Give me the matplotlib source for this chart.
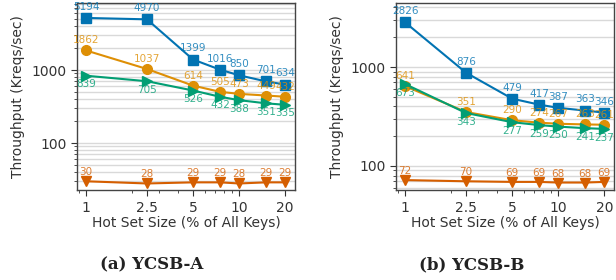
import matplotlib.pyplot as plt
from matplotlib.ticker import FixedLocator, NullFormatter, LogLocator

x = [1, 2.5, 5, 7.5, 10, 15, 20]
xtick_labels = ['1', '2.5', '5', '10', '20']
xtick_vals = [1, 2.5, 5, 10, 20]

# YCSB-A
a_blue = [5194, 4970, 1399, 1016, 850, 701, 634]
a_orange = [1862, 1037, 614, 505, 473, 449, 432]
a_green = [839, 705, 526, 432, 388, 351, 335]
a_red = [30, 28, 29, 29, 28, 29, 29]

# YCSB-B
b_blue = [2826, 876, 479, 417, 387, 363, 346]
b_orange = [641, 351, 290, 274, 267, 263, 261]
b_green = [673, 343, 277, 259, 250, 241, 237]
b_red = [72, 70, 69, 69, 68, 68, 69]

styles = [
    ('#0173b2', 's', 8),
    ('#de8f05', 'o', 7.2),
    ('#029e73', '>', -6.2),
    ('#d55e00', 'v', 6.5),
]

fig = plt.figure(figsize=(6.16, 2.8), dpi=100)
ax1 = fig.add_axes([0.125, 0.321, 0.354, 0.668])
ax2 = fig.add_axes([0.643, 0.321, 0.354, 0.668])


def draw(ax, series, ylim, caption, cx):
    for (col, mk, off), ys in zip(styles, series):
        ax.plot(x, ys, color=col, marker=mk, markersize=7, linewidth=1.5, zorder=3)
        for xi, yi in zip(x, ys):
            ax.annotate(str(yi), (xi, yi), textcoords='offset points',
                        xytext=(0, off), ha='center', va='center',
                        fontsize=7.5, color=col, alpha=0.8, zorder=4)
    ax.set_xscale('log')
    ax.set_yscale('log')
    ax.set_xlim(0.873, 23.2)
    ax.set_ylim(*ylim)
    ax.xaxis.set_major_locator(FixedLocator(xtick_vals))
    ax.set_xticklabels(xtick_labels)
    ax.xaxis.set_minor_formatter(NullFormatter())
    ax.yaxis.set_major_locator(LogLocator(base=10, numticks=10))
    ax.yaxis.set_minor_locator(LogLocator(base=10, subs=range(2, 10), numticks=10))
    ax.yaxis.set_minor_formatter(NullFormatter())
    ax.yaxis.set_major_formatter(plt.FuncFormatter(lambda v, p: '%d' % v))
    ax.grid(True, axis='y', which='both', color='#d9d9d9', linewidth=1.0, zorder=0)
    ax.tick_params(which='both', colors='#333333', labelsize=10, direction='out')
    ax.tick_params(which='major', length=4)
    ax.tick_params(which='minor', length=2.5)
    for s in ax.spines.values():
        s.set_color('#444444')
        s.set_linewidth(1.0)
    ax.set_xlabel('Hot Set Size (% of All Keys)', fontsize=10, color='#333333', labelpad=1)
    ax.set_ylabel('Throughput (Kreqs/sec)', fontsize=10, color='#333333', labelpad=5)
    fig.text(cx, 0.054, caption, ha='center', va='center', fontsize=12,
             fontweight='bold', family='DejaVu Serif', color='#222222')


draw(ax1, [a_blue, a_orange, a_green, a_red], (22.7, 8300), '(a) YCSB-A', 0.247)
draw(ax2, [b_blue, b_orange, b_green, b_red], (57, 4430), '(b) YCSB-B', 0.765)

fig.savefig('out.png', dpi=100)
